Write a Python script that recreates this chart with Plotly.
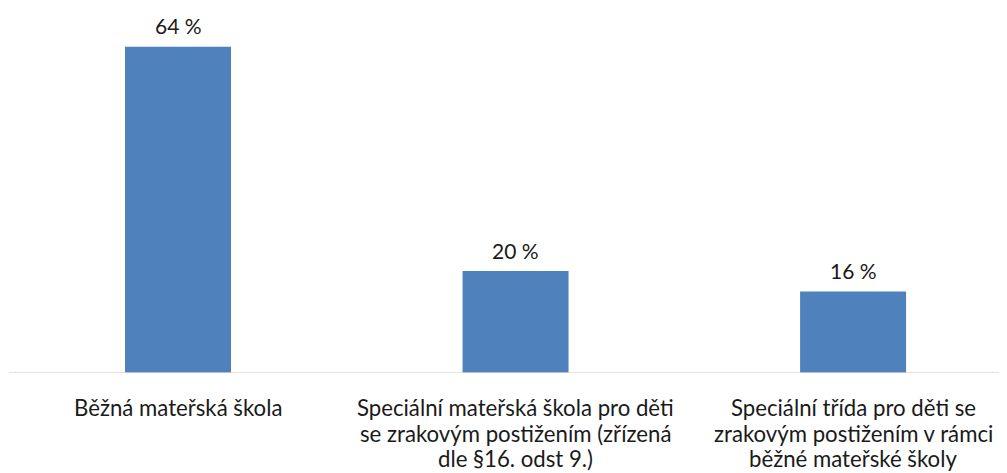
import plotly.graph_objects as go

categories = [
    "Běžná mateřská škola",
    "Speciální mateřská škola pro děti se zrakovým postižením (zřízená dle §16. odst 9.)",
    "Speciální třída pro děti se zrakovým postižením v rámci běžné mateřské školy",
]
tick_lines = [
    ["Běžná mateřská škola"],
    ["Speciální mateřská škola pro děti", "se zrakovým postižením (zřízená", "dle §16. odst 9.)"],
    ["Speciální třída pro děti se", "zrakovým postižením v rámci", "běžné mateřské školy"],
]
values = [64, 20, 16]

FONT = "Lato"
TXT = "#1a1a1a"
FS_LABEL = 21
FS_TICK = 22.2

fig = go.Figure()
fig.add_trace(go.Bar(
    x=list(range(len(categories))), y=values, width=0.314,
    marker=dict(color="#4F81BD", line=dict(width=0)),
    hovertext=categories,
))

ann = []
for i, v in enumerate(values):
    ann.append(dict(x=i, y=v, xref="x", yref="y", text=f"{v} %", showarrow=False,
                    yanchor="middle", yshift=21, font=dict(family=FONT, size=FS_LABEL, color=TXT)))
for i, lines in enumerate(tick_lines):
    for j, line in enumerate(lines):
        ann.append(dict(x=i, y=0, xref="x", yref="y", text=line, showarrow=False,
                        yanchor="middle", yshift=-(34.5 + 25.7 * j),
                        font=dict(family=FONT, size=FS_TICK, color=TXT)))

# page has an 8px body margin; figure sized to fit the remaining viewport
fig.update_layout(
    width=999, height=465,
    margin=dict(l=1, r=0, t=2, b=100),
    paper_bgcolor="white", plot_bgcolor="white",
    showlegend=False,
    annotations=ann,
    xaxis=dict(range=[-0.5007, 2.456], showticklabels=False, showgrid=False, zeroline=False,
               showline=False, ticks=""),
    yaxis=dict(range=[0, 71.2], visible=False),
    shapes=[dict(type="line", xref="paper", yref="y", x0=0, x1=1, y0=0, y1=0,
                 line=dict(color="#d9d9d9", width=1.5))],
)

fig.write_html("out.html")
